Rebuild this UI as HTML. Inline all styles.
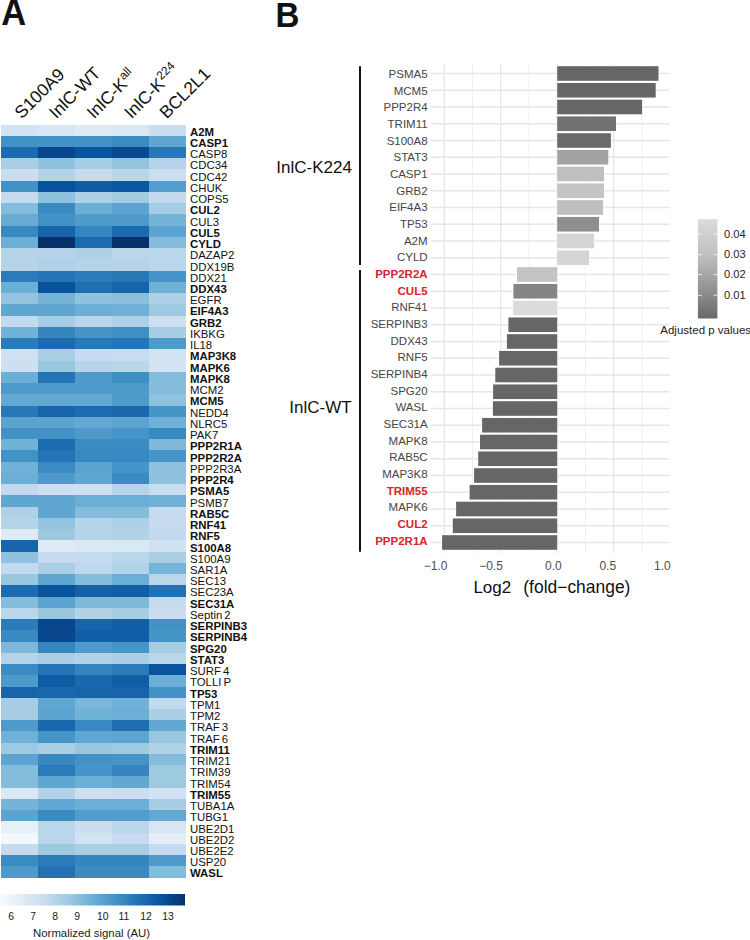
<!DOCTYPE html><html><head><meta charset="utf-8"><style>html,body{margin:0;padding:0;background:#fff;width:750px;height:940px;overflow:hidden}svg{display:block}text{font-family:"Liberation Sans",sans-serif}</style></head><body>
<svg width="750" height="940" viewBox="0 0 750 940">
<defs><linearGradient id="hmg" x1="0" x2="1" y1="0" y2="0">
<stop offset="0.000" stop-color="#F7FBFF"/>
<stop offset="0.125" stop-color="#DEEBF7"/>
<stop offset="0.250" stop-color="#C6DBEF"/>
<stop offset="0.375" stop-color="#9ECAE1"/>
<stop offset="0.500" stop-color="#6BAED6"/>
<stop offset="0.625" stop-color="#4292C6"/>
<stop offset="0.750" stop-color="#2171B5"/>
<stop offset="0.875" stop-color="#08519C"/>
<stop offset="1.000" stop-color="#08306B"/>
</linearGradient>
<linearGradient id="pg" x1="0" x2="0" y1="0" y2="1"><stop offset="0" stop-color="#dddcdc"/><stop offset="0.36" stop-color="#c0bfbf"/><stop offset="0.56" stop-color="#a6a6a6"/><stop offset="0.77" stop-color="#8a8a8a"/><stop offset="1" stop-color="#686868"/></linearGradient>
</defs>
<text x="0" y="0" font-size="36" font-weight="bold" fill="#111" transform="translate(1.25,25.1) scale(0.96,1)">A</text>
<text x="0" y="0" font-size="36" font-weight="bold" fill="#111" transform="translate(275.6,26.7) scale(0.92,1)">B</text>
<g shape-rendering="crispEdges">
<rect x="1.20" y="124.50" width="37.22" height="11.54" fill="#d2e3f3"/>
<rect x="38.12" y="124.50" width="37.22" height="11.54" fill="#d7e6f5"/>
<rect x="75.04" y="124.50" width="37.22" height="11.54" fill="#deebf7"/>
<rect x="111.96" y="124.50" width="37.22" height="11.54" fill="#d9e8f5"/>
<rect x="148.88" y="124.50" width="37.22" height="11.54" fill="#cbdef1"/>
<rect x="1.20" y="135.74" width="37.22" height="11.54" fill="#4292c6"/>
<rect x="38.12" y="135.74" width="37.22" height="11.54" fill="#4292c6"/>
<rect x="75.04" y="135.74" width="37.22" height="11.54" fill="#4292c6"/>
<rect x="111.96" y="135.74" width="37.22" height="11.54" fill="#3b8bc3"/>
<rect x="148.88" y="135.74" width="37.22" height="11.54" fill="#5fa6d1"/>
<rect x="1.20" y="146.98" width="37.22" height="11.54" fill="#1c6bb0"/>
<rect x="38.12" y="146.98" width="37.22" height="11.54" fill="#08478d"/>
<rect x="75.04" y="146.98" width="37.22" height="11.54" fill="#0a549e"/>
<rect x="111.96" y="146.98" width="37.22" height="11.54" fill="#084a92"/>
<rect x="148.88" y="146.98" width="37.22" height="11.54" fill="#2878b8"/>
<rect x="1.20" y="158.22" width="37.22" height="11.54" fill="#aacfe5"/>
<rect x="38.12" y="158.22" width="37.22" height="11.54" fill="#8fc2de"/>
<rect x="75.04" y="158.22" width="37.22" height="11.54" fill="#a6cde4"/>
<rect x="111.96" y="158.22" width="37.22" height="11.54" fill="#94c4df"/>
<rect x="148.88" y="158.22" width="37.22" height="11.54" fill="#b6d4e9"/>
<rect x="1.20" y="169.46" width="37.22" height="11.54" fill="#cbdef1"/>
<rect x="38.12" y="169.46" width="37.22" height="11.54" fill="#b2d2e8"/>
<rect x="75.04" y="169.46" width="37.22" height="11.54" fill="#c6dbef"/>
<rect x="111.96" y="169.46" width="37.22" height="11.54" fill="#bad6eb"/>
<rect x="148.88" y="169.46" width="37.22" height="11.54" fill="#cbdef1"/>
<rect x="1.20" y="180.70" width="37.22" height="11.54" fill="#4292c6"/>
<rect x="38.12" y="180.70" width="37.22" height="11.54" fill="#08519c"/>
<rect x="75.04" y="180.70" width="37.22" height="11.54" fill="#0f5ba4"/>
<rect x="111.96" y="180.70" width="37.22" height="11.54" fill="#0d57a1"/>
<rect x="148.88" y="180.70" width="37.22" height="11.54" fill="#529dcc"/>
<rect x="1.20" y="191.94" width="37.22" height="11.54" fill="#c6dbef"/>
<rect x="38.12" y="191.94" width="37.22" height="11.54" fill="#8fc2de"/>
<rect x="75.04" y="191.94" width="37.22" height="11.54" fill="#aed1e7"/>
<rect x="111.96" y="191.94" width="37.22" height="11.54" fill="#a2cce2"/>
<rect x="148.88" y="191.94" width="37.22" height="11.54" fill="#c2d9ee"/>
<rect x="1.20" y="203.18" width="37.22" height="11.54" fill="#84bcdc"/>
<rect x="38.12" y="203.18" width="37.22" height="11.54" fill="#3b8bc3"/>
<rect x="75.04" y="203.18" width="37.22" height="11.54" fill="#6baed6"/>
<rect x="111.96" y="203.18" width="37.22" height="11.54" fill="#5ba3d0"/>
<rect x="148.88" y="203.18" width="37.22" height="11.54" fill="#a6cde4"/>
<rect x="1.20" y="214.42" width="37.22" height="11.54" fill="#67abd4"/>
<rect x="38.12" y="214.42" width="37.22" height="11.54" fill="#4292c6"/>
<rect x="75.04" y="214.42" width="37.22" height="11.54" fill="#4e9acb"/>
<rect x="111.96" y="214.42" width="37.22" height="11.54" fill="#4e9acb"/>
<rect x="148.88" y="214.42" width="37.22" height="11.54" fill="#75b4d8"/>
<rect x="1.20" y="225.66" width="37.22" height="11.54" fill="#3888c1"/>
<rect x="38.12" y="225.66" width="37.22" height="11.54" fill="#1764ab"/>
<rect x="75.04" y="225.66" width="37.22" height="11.54" fill="#3585bf"/>
<rect x="111.96" y="225.66" width="37.22" height="11.54" fill="#1c6bb0"/>
<rect x="148.88" y="225.66" width="37.22" height="11.54" fill="#5ba3d0"/>
<rect x="1.20" y="236.90" width="37.22" height="11.54" fill="#6baed6"/>
<rect x="38.12" y="236.90" width="37.22" height="11.54" fill="#08306b"/>
<rect x="75.04" y="236.90" width="37.22" height="11.54" fill="#1c6bb0"/>
<rect x="111.96" y="236.90" width="37.22" height="11.54" fill="#08306b"/>
<rect x="148.88" y="236.90" width="37.22" height="11.54" fill="#84bcdc"/>
<rect x="1.20" y="248.14" width="37.22" height="11.54" fill="#b6d4e9"/>
<rect x="38.12" y="248.14" width="37.22" height="11.54" fill="#b6d4e9"/>
<rect x="75.04" y="248.14" width="37.22" height="11.54" fill="#aed1e7"/>
<rect x="111.96" y="248.14" width="37.22" height="11.54" fill="#bad6eb"/>
<rect x="148.88" y="248.14" width="37.22" height="11.54" fill="#bad6eb"/>
<rect x="1.20" y="259.38" width="37.22" height="11.54" fill="#b6d4e9"/>
<rect x="38.12" y="259.38" width="37.22" height="11.54" fill="#aed1e7"/>
<rect x="75.04" y="259.38" width="37.22" height="11.54" fill="#b6d4e9"/>
<rect x="111.96" y="259.38" width="37.22" height="11.54" fill="#b6d4e9"/>
<rect x="148.88" y="259.38" width="37.22" height="11.54" fill="#bad6eb"/>
<rect x="1.20" y="270.62" width="37.22" height="11.54" fill="#2b7bba"/>
<rect x="38.12" y="270.62" width="37.22" height="11.54" fill="#2474b7"/>
<rect x="75.04" y="270.62" width="37.22" height="11.54" fill="#2b7bba"/>
<rect x="111.96" y="270.62" width="37.22" height="11.54" fill="#2878b8"/>
<rect x="148.88" y="270.62" width="37.22" height="11.54" fill="#4695c8"/>
<rect x="1.20" y="281.86" width="37.22" height="11.54" fill="#6baed6"/>
<rect x="38.12" y="281.86" width="37.22" height="11.54" fill="#08519c"/>
<rect x="75.04" y="281.86" width="37.22" height="11.54" fill="#1f6eb2"/>
<rect x="111.96" y="281.86" width="37.22" height="11.54" fill="#1764ab"/>
<rect x="148.88" y="281.86" width="37.22" height="11.54" fill="#70b1d7"/>
<rect x="1.20" y="293.10" width="37.22" height="11.54" fill="#94c4df"/>
<rect x="38.12" y="293.10" width="37.22" height="11.54" fill="#75b4d8"/>
<rect x="75.04" y="293.10" width="37.22" height="11.54" fill="#8fc2de"/>
<rect x="111.96" y="293.10" width="37.22" height="11.54" fill="#8abfdd"/>
<rect x="148.88" y="293.10" width="37.22" height="11.54" fill="#aed1e7"/>
<rect x="1.20" y="304.34" width="37.22" height="11.54" fill="#5fa6d1"/>
<rect x="38.12" y="304.34" width="37.22" height="11.54" fill="#5fa6d1"/>
<rect x="75.04" y="304.34" width="37.22" height="11.54" fill="#6baed6"/>
<rect x="111.96" y="304.34" width="37.22" height="11.54" fill="#70b1d7"/>
<rect x="148.88" y="304.34" width="37.22" height="11.54" fill="#9ecae1"/>
<rect x="1.20" y="315.59" width="37.22" height="11.54" fill="#c2d9ee"/>
<rect x="38.12" y="315.59" width="37.22" height="11.54" fill="#a6cde4"/>
<rect x="75.04" y="315.59" width="37.22" height="11.54" fill="#bad6eb"/>
<rect x="111.96" y="315.59" width="37.22" height="11.54" fill="#aed1e7"/>
<rect x="148.88" y="315.59" width="37.22" height="11.54" fill="#cde0f1"/>
<rect x="1.20" y="326.83" width="37.22" height="11.54" fill="#70b1d7"/>
<rect x="38.12" y="326.83" width="37.22" height="11.54" fill="#3585bf"/>
<rect x="75.04" y="326.83" width="37.22" height="11.54" fill="#4695c8"/>
<rect x="111.96" y="326.83" width="37.22" height="11.54" fill="#3f8fc4"/>
<rect x="148.88" y="326.83" width="37.22" height="11.54" fill="#a6cde4"/>
<rect x="1.20" y="338.07" width="37.22" height="11.54" fill="#2b7bba"/>
<rect x="38.12" y="338.07" width="37.22" height="11.54" fill="#1c6bb0"/>
<rect x="75.04" y="338.07" width="37.22" height="11.54" fill="#2878b8"/>
<rect x="111.96" y="338.07" width="37.22" height="11.54" fill="#2474b7"/>
<rect x="148.88" y="338.07" width="37.22" height="11.54" fill="#4e9acb"/>
<rect x="1.20" y="349.31" width="37.22" height="11.54" fill="#d0e1f2"/>
<rect x="38.12" y="349.31" width="37.22" height="11.54" fill="#aacfe5"/>
<rect x="75.04" y="349.31" width="37.22" height="11.54" fill="#c6dbef"/>
<rect x="111.96" y="349.31" width="37.22" height="11.54" fill="#c8ddf0"/>
<rect x="148.88" y="349.31" width="37.22" height="11.54" fill="#d2e3f3"/>
<rect x="1.20" y="360.55" width="37.22" height="11.54" fill="#cde0f1"/>
<rect x="38.12" y="360.55" width="37.22" height="11.54" fill="#99c7e0"/>
<rect x="75.04" y="360.55" width="37.22" height="11.54" fill="#b6d4e9"/>
<rect x="111.96" y="360.55" width="37.22" height="11.54" fill="#bad6eb"/>
<rect x="148.88" y="360.55" width="37.22" height="11.54" fill="#d2e3f3"/>
<rect x="1.20" y="371.79" width="37.22" height="11.54" fill="#6baed6"/>
<rect x="38.12" y="371.79" width="37.22" height="11.54" fill="#2474b7"/>
<rect x="75.04" y="371.79" width="37.22" height="11.54" fill="#4e9acb"/>
<rect x="111.96" y="371.79" width="37.22" height="11.54" fill="#3f8fc4"/>
<rect x="148.88" y="371.79" width="37.22" height="11.54" fill="#84bcdc"/>
<rect x="1.20" y="383.03" width="37.22" height="11.54" fill="#4e9acb"/>
<rect x="38.12" y="383.03" width="37.22" height="11.54" fill="#4e9acb"/>
<rect x="75.04" y="383.03" width="37.22" height="11.54" fill="#4e9acb"/>
<rect x="111.96" y="383.03" width="37.22" height="11.54" fill="#4e9acb"/>
<rect x="148.88" y="383.03" width="37.22" height="11.54" fill="#84bcdc"/>
<rect x="1.20" y="394.27" width="37.22" height="11.54" fill="#63a8d3"/>
<rect x="38.12" y="394.27" width="37.22" height="11.54" fill="#63a8d3"/>
<rect x="75.04" y="394.27" width="37.22" height="11.54" fill="#63a8d3"/>
<rect x="111.96" y="394.27" width="37.22" height="11.54" fill="#4e9acb"/>
<rect x="148.88" y="394.27" width="37.22" height="11.54" fill="#8fc2de"/>
<rect x="1.20" y="405.51" width="37.22" height="11.54" fill="#2878b8"/>
<rect x="38.12" y="405.51" width="37.22" height="11.54" fill="#1764ab"/>
<rect x="75.04" y="405.51" width="37.22" height="11.54" fill="#1c6bb0"/>
<rect x="111.96" y="405.51" width="37.22" height="11.54" fill="#1a67ae"/>
<rect x="148.88" y="405.51" width="37.22" height="11.54" fill="#4695c8"/>
<rect x="1.20" y="416.75" width="37.22" height="11.54" fill="#5ba3d0"/>
<rect x="38.12" y="416.75" width="37.22" height="11.54" fill="#5ba3d0"/>
<rect x="75.04" y="416.75" width="37.22" height="11.54" fill="#63a8d3"/>
<rect x="111.96" y="416.75" width="37.22" height="11.54" fill="#5ba3d0"/>
<rect x="148.88" y="416.75" width="37.22" height="11.54" fill="#70b1d7"/>
<rect x="1.20" y="427.99" width="37.22" height="11.54" fill="#4292c6"/>
<rect x="38.12" y="427.99" width="37.22" height="11.54" fill="#4292c6"/>
<rect x="75.04" y="427.99" width="37.22" height="11.54" fill="#4e9acb"/>
<rect x="111.96" y="427.99" width="37.22" height="11.54" fill="#4695c8"/>
<rect x="148.88" y="427.99" width="37.22" height="11.54" fill="#3888c1"/>
<rect x="1.20" y="439.23" width="37.22" height="11.54" fill="#70b1d7"/>
<rect x="38.12" y="439.23" width="37.22" height="11.54" fill="#1c6bb0"/>
<rect x="75.04" y="439.23" width="37.22" height="11.54" fill="#3b8bc3"/>
<rect x="111.96" y="439.23" width="37.22" height="11.54" fill="#3b8bc3"/>
<rect x="148.88" y="439.23" width="37.22" height="11.54" fill="#7fb9da"/>
<rect x="1.20" y="450.47" width="37.22" height="11.54" fill="#4292c6"/>
<rect x="38.12" y="450.47" width="37.22" height="11.54" fill="#2474b7"/>
<rect x="75.04" y="450.47" width="37.22" height="11.54" fill="#3888c1"/>
<rect x="111.96" y="450.47" width="37.22" height="11.54" fill="#3888c1"/>
<rect x="148.88" y="450.47" width="37.22" height="11.54" fill="#4695c8"/>
<rect x="1.20" y="461.71" width="37.22" height="11.54" fill="#70b1d7"/>
<rect x="38.12" y="461.71" width="37.22" height="11.54" fill="#3b8bc3"/>
<rect x="75.04" y="461.71" width="37.22" height="11.54" fill="#5ba3d0"/>
<rect x="111.96" y="461.71" width="37.22" height="11.54" fill="#4695c8"/>
<rect x="148.88" y="461.71" width="37.22" height="11.54" fill="#8fc2de"/>
<rect x="1.20" y="472.95" width="37.22" height="11.54" fill="#6baed6"/>
<rect x="38.12" y="472.95" width="37.22" height="11.54" fill="#4e9acb"/>
<rect x="75.04" y="472.95" width="37.22" height="11.54" fill="#5fa6d1"/>
<rect x="111.96" y="472.95" width="37.22" height="11.54" fill="#3b8bc3"/>
<rect x="148.88" y="472.95" width="37.22" height="11.54" fill="#8fc2de"/>
<rect x="1.20" y="484.19" width="37.22" height="11.54" fill="#c2d9ee"/>
<rect x="38.12" y="484.19" width="37.22" height="11.54" fill="#cde0f1"/>
<rect x="75.04" y="484.19" width="37.22" height="11.54" fill="#cde0f1"/>
<rect x="111.96" y="484.19" width="37.22" height="11.54" fill="#b6d4e9"/>
<rect x="148.88" y="484.19" width="37.22" height="11.54" fill="#c8ddf0"/>
<rect x="1.20" y="495.43" width="37.22" height="11.54" fill="#5fa6d1"/>
<rect x="38.12" y="495.43" width="37.22" height="11.54" fill="#5fa6d1"/>
<rect x="75.04" y="495.43" width="37.22" height="11.54" fill="#6baed6"/>
<rect x="111.96" y="495.43" width="37.22" height="11.54" fill="#6baed6"/>
<rect x="148.88" y="495.43" width="37.22" height="11.54" fill="#70b1d7"/>
<rect x="1.20" y="506.67" width="37.22" height="11.54" fill="#aed1e7"/>
<rect x="38.12" y="506.67" width="37.22" height="11.54" fill="#5fa6d1"/>
<rect x="75.04" y="506.67" width="37.22" height="11.54" fill="#84bcdc"/>
<rect x="111.96" y="506.67" width="37.22" height="11.54" fill="#84bcdc"/>
<rect x="148.88" y="506.67" width="37.22" height="11.54" fill="#c6dbef"/>
<rect x="1.20" y="517.91" width="37.22" height="11.54" fill="#b6d4e9"/>
<rect x="38.12" y="517.91" width="37.22" height="11.54" fill="#94c4df"/>
<rect x="75.04" y="517.91" width="37.22" height="11.54" fill="#b6d4e9"/>
<rect x="111.96" y="517.91" width="37.22" height="11.54" fill="#aed1e7"/>
<rect x="148.88" y="517.91" width="37.22" height="11.54" fill="#c6dbef"/>
<rect x="1.20" y="529.15" width="37.22" height="11.54" fill="#deebf7"/>
<rect x="38.12" y="529.15" width="37.22" height="11.54" fill="#9ecae1"/>
<rect x="75.04" y="529.15" width="37.22" height="11.54" fill="#b6d4e9"/>
<rect x="111.96" y="529.15" width="37.22" height="11.54" fill="#b2d2e8"/>
<rect x="148.88" y="529.15" width="37.22" height="11.54" fill="#c2d9ee"/>
<rect x="1.20" y="540.39" width="37.22" height="11.54" fill="#1764ab"/>
<rect x="38.12" y="540.39" width="37.22" height="11.54" fill="#deebf7"/>
<rect x="75.04" y="540.39" width="37.22" height="11.54" fill="#d9e8f5"/>
<rect x="111.96" y="540.39" width="37.22" height="11.54" fill="#d9e8f5"/>
<rect x="148.88" y="540.39" width="37.22" height="11.54" fill="#d0e1f2"/>
<rect x="1.20" y="551.63" width="37.22" height="11.54" fill="#8fc2de"/>
<rect x="38.12" y="551.63" width="37.22" height="11.54" fill="#c6dbef"/>
<rect x="75.04" y="551.63" width="37.22" height="11.54" fill="#c6dbef"/>
<rect x="111.96" y="551.63" width="37.22" height="11.54" fill="#bad6eb"/>
<rect x="148.88" y="551.63" width="37.22" height="11.54" fill="#aacfe5"/>
<rect x="1.20" y="562.87" width="37.22" height="11.54" fill="#c2d9ee"/>
<rect x="38.12" y="562.87" width="37.22" height="11.54" fill="#aacfe5"/>
<rect x="75.04" y="562.87" width="37.22" height="11.54" fill="#bed8ec"/>
<rect x="111.96" y="562.87" width="37.22" height="11.54" fill="#b2d2e8"/>
<rect x="148.88" y="562.87" width="37.22" height="11.54" fill="#75b4d8"/>
<rect x="1.20" y="574.11" width="37.22" height="11.54" fill="#99c7e0"/>
<rect x="38.12" y="574.11" width="37.22" height="11.54" fill="#5fa6d1"/>
<rect x="75.04" y="574.11" width="37.22" height="11.54" fill="#84bcdc"/>
<rect x="111.96" y="574.11" width="37.22" height="11.54" fill="#6baed6"/>
<rect x="148.88" y="574.11" width="37.22" height="11.54" fill="#bad6eb"/>
<rect x="1.20" y="585.35" width="37.22" height="11.54" fill="#1c6bb0"/>
<rect x="38.12" y="585.35" width="37.22" height="11.54" fill="#0a549e"/>
<rect x="75.04" y="585.35" width="37.22" height="11.54" fill="#1461a8"/>
<rect x="111.96" y="585.35" width="37.22" height="11.54" fill="#125ea6"/>
<rect x="148.88" y="585.35" width="37.22" height="11.54" fill="#2171b5"/>
<rect x="1.20" y="596.59" width="37.22" height="11.54" fill="#84bcdc"/>
<rect x="38.12" y="596.59" width="37.22" height="11.54" fill="#5ba3d0"/>
<rect x="75.04" y="596.59" width="37.22" height="11.54" fill="#7fb9da"/>
<rect x="111.96" y="596.59" width="37.22" height="11.54" fill="#7fb9da"/>
<rect x="148.88" y="596.59" width="37.22" height="11.54" fill="#c6dbef"/>
<rect x="1.20" y="607.83" width="37.22" height="11.54" fill="#bad6eb"/>
<rect x="38.12" y="607.83" width="37.22" height="11.54" fill="#99c7e0"/>
<rect x="75.04" y="607.83" width="37.22" height="11.54" fill="#b2d2e8"/>
<rect x="111.96" y="607.83" width="37.22" height="11.54" fill="#a6cde4"/>
<rect x="148.88" y="607.83" width="37.22" height="11.54" fill="#cbdef1"/>
<rect x="1.20" y="619.07" width="37.22" height="11.54" fill="#2b7bba"/>
<rect x="38.12" y="619.07" width="37.22" height="11.54" fill="#08478d"/>
<rect x="75.04" y="619.07" width="37.22" height="11.54" fill="#1764ab"/>
<rect x="111.96" y="619.07" width="37.22" height="11.54" fill="#125ea6"/>
<rect x="148.88" y="619.07" width="37.22" height="11.54" fill="#4292c6"/>
<rect x="1.20" y="630.31" width="37.22" height="11.54" fill="#3888c1"/>
<rect x="38.12" y="630.31" width="37.22" height="11.54" fill="#08478d"/>
<rect x="75.04" y="630.31" width="37.22" height="11.54" fill="#125ea6"/>
<rect x="111.96" y="630.31" width="37.22" height="11.54" fill="#125ea6"/>
<rect x="148.88" y="630.31" width="37.22" height="11.54" fill="#4695c8"/>
<rect x="1.20" y="641.55" width="37.22" height="11.54" fill="#7fb9da"/>
<rect x="38.12" y="641.55" width="37.22" height="11.54" fill="#3585bf"/>
<rect x="75.04" y="641.55" width="37.22" height="11.54" fill="#4e9acb"/>
<rect x="111.96" y="641.55" width="37.22" height="11.54" fill="#4695c8"/>
<rect x="148.88" y="641.55" width="37.22" height="11.54" fill="#a6cde4"/>
<rect x="1.20" y="652.79" width="37.22" height="11.54" fill="#b6d4e9"/>
<rect x="38.12" y="652.79" width="37.22" height="11.54" fill="#aacfe5"/>
<rect x="75.04" y="652.79" width="37.22" height="11.54" fill="#b2d2e8"/>
<rect x="111.96" y="652.79" width="37.22" height="11.54" fill="#aacfe5"/>
<rect x="148.88" y="652.79" width="37.22" height="11.54" fill="#bad6eb"/>
<rect x="1.20" y="664.03" width="37.22" height="11.54" fill="#3b8bc3"/>
<rect x="38.12" y="664.03" width="37.22" height="11.54" fill="#2474b7"/>
<rect x="75.04" y="664.03" width="37.22" height="11.54" fill="#3585bf"/>
<rect x="111.96" y="664.03" width="37.22" height="11.54" fill="#2b7bba"/>
<rect x="148.88" y="664.03" width="37.22" height="11.54" fill="#0a549e"/>
<rect x="1.20" y="675.27" width="37.22" height="11.54" fill="#4e9acb"/>
<rect x="38.12" y="675.27" width="37.22" height="11.54" fill="#0f5ba4"/>
<rect x="75.04" y="675.27" width="37.22" height="11.54" fill="#1a67ae"/>
<rect x="111.96" y="675.27" width="37.22" height="11.54" fill="#125ea6"/>
<rect x="148.88" y="675.27" width="37.22" height="11.54" fill="#6baed6"/>
<rect x="1.20" y="686.51" width="37.22" height="11.54" fill="#1764ab"/>
<rect x="38.12" y="686.51" width="37.22" height="11.54" fill="#1a67ae"/>
<rect x="75.04" y="686.51" width="37.22" height="11.54" fill="#1764ab"/>
<rect x="111.96" y="686.51" width="37.22" height="11.54" fill="#1764ab"/>
<rect x="148.88" y="686.51" width="37.22" height="11.54" fill="#4292c6"/>
<rect x="1.20" y="697.76" width="37.22" height="11.54" fill="#a6cde4"/>
<rect x="38.12" y="697.76" width="37.22" height="11.54" fill="#5fa6d1"/>
<rect x="75.04" y="697.76" width="37.22" height="11.54" fill="#7ab6d9"/>
<rect x="111.96" y="697.76" width="37.22" height="11.54" fill="#70b1d7"/>
<rect x="148.88" y="697.76" width="37.22" height="11.54" fill="#c2d9ee"/>
<rect x="1.20" y="709.00" width="37.22" height="11.54" fill="#a6cde4"/>
<rect x="38.12" y="709.00" width="37.22" height="11.54" fill="#5ba3d0"/>
<rect x="75.04" y="709.00" width="37.22" height="11.54" fill="#70b1d7"/>
<rect x="111.96" y="709.00" width="37.22" height="11.54" fill="#6baed6"/>
<rect x="148.88" y="709.00" width="37.22" height="11.54" fill="#aacfe5"/>
<rect x="1.20" y="720.24" width="37.22" height="11.54" fill="#4e9acb"/>
<rect x="38.12" y="720.24" width="37.22" height="11.54" fill="#1a67ae"/>
<rect x="75.04" y="720.24" width="37.22" height="11.54" fill="#3888c1"/>
<rect x="111.96" y="720.24" width="37.22" height="11.54" fill="#1f6eb2"/>
<rect x="148.88" y="720.24" width="37.22" height="11.54" fill="#63a8d3"/>
<rect x="1.20" y="731.48" width="37.22" height="11.54" fill="#70b1d7"/>
<rect x="38.12" y="731.48" width="37.22" height="11.54" fill="#4695c8"/>
<rect x="75.04" y="731.48" width="37.22" height="11.54" fill="#5fa6d1"/>
<rect x="111.96" y="731.48" width="37.22" height="11.54" fill="#5ba3d0"/>
<rect x="148.88" y="731.48" width="37.22" height="11.54" fill="#99c7e0"/>
<rect x="1.20" y="742.72" width="37.22" height="11.54" fill="#9ecae1"/>
<rect x="38.12" y="742.72" width="37.22" height="11.54" fill="#aacfe5"/>
<rect x="75.04" y="742.72" width="37.22" height="11.54" fill="#99c7e0"/>
<rect x="111.96" y="742.72" width="37.22" height="11.54" fill="#9ecae1"/>
<rect x="148.88" y="742.72" width="37.22" height="11.54" fill="#b2d2e8"/>
<rect x="1.20" y="753.96" width="37.22" height="11.54" fill="#5ba3d0"/>
<rect x="38.12" y="753.96" width="37.22" height="11.54" fill="#3888c1"/>
<rect x="75.04" y="753.96" width="37.22" height="11.54" fill="#4292c6"/>
<rect x="111.96" y="753.96" width="37.22" height="11.54" fill="#4695c8"/>
<rect x="148.88" y="753.96" width="37.22" height="11.54" fill="#84bcdc"/>
<rect x="1.20" y="765.20" width="37.22" height="11.54" fill="#84bcdc"/>
<rect x="38.12" y="765.20" width="37.22" height="11.54" fill="#2b7bba"/>
<rect x="75.04" y="765.20" width="37.22" height="11.54" fill="#4695c8"/>
<rect x="111.96" y="765.20" width="37.22" height="11.54" fill="#3585bf"/>
<rect x="148.88" y="765.20" width="37.22" height="11.54" fill="#9ecae1"/>
<rect x="1.20" y="776.44" width="37.22" height="11.54" fill="#84bcdc"/>
<rect x="38.12" y="776.44" width="37.22" height="11.54" fill="#5fa6d1"/>
<rect x="75.04" y="776.44" width="37.22" height="11.54" fill="#6baed6"/>
<rect x="111.96" y="776.44" width="37.22" height="11.54" fill="#63a8d3"/>
<rect x="148.88" y="776.44" width="37.22" height="11.54" fill="#9ecae1"/>
<rect x="1.20" y="787.68" width="37.22" height="11.54" fill="#d9e8f5"/>
<rect x="38.12" y="787.68" width="37.22" height="11.54" fill="#b2d2e8"/>
<rect x="75.04" y="787.68" width="37.22" height="11.54" fill="#cde0f1"/>
<rect x="111.96" y="787.68" width="37.22" height="11.54" fill="#cbdef1"/>
<rect x="148.88" y="787.68" width="37.22" height="11.54" fill="#d2e3f3"/>
<rect x="1.20" y="798.92" width="37.22" height="11.54" fill="#75b4d8"/>
<rect x="38.12" y="798.92" width="37.22" height="11.54" fill="#63a8d3"/>
<rect x="75.04" y="798.92" width="37.22" height="11.54" fill="#6baed6"/>
<rect x="111.96" y="798.92" width="37.22" height="11.54" fill="#6baed6"/>
<rect x="148.88" y="798.92" width="37.22" height="11.54" fill="#a6cde4"/>
<rect x="1.20" y="810.16" width="37.22" height="11.54" fill="#5ba3d0"/>
<rect x="38.12" y="810.16" width="37.22" height="11.54" fill="#3b8bc3"/>
<rect x="75.04" y="810.16" width="37.22" height="11.54" fill="#529dcc"/>
<rect x="111.96" y="810.16" width="37.22" height="11.54" fill="#529dcc"/>
<rect x="148.88" y="810.16" width="37.22" height="11.54" fill="#63a8d3"/>
<rect x="1.20" y="821.40" width="37.22" height="11.54" fill="#e6f0f9"/>
<rect x="38.12" y="821.40" width="37.22" height="11.54" fill="#bad6eb"/>
<rect x="75.04" y="821.40" width="37.22" height="11.54" fill="#cbdef1"/>
<rect x="111.96" y="821.40" width="37.22" height="11.54" fill="#bad6eb"/>
<rect x="148.88" y="821.40" width="37.22" height="11.54" fill="#d7e6f5"/>
<rect x="1.20" y="832.64" width="37.22" height="11.54" fill="#f2f8fd"/>
<rect x="38.12" y="832.64" width="37.22" height="11.54" fill="#bad6eb"/>
<rect x="75.04" y="832.64" width="37.22" height="11.54" fill="#d2e3f3"/>
<rect x="111.96" y="832.64" width="37.22" height="11.54" fill="#c6dbef"/>
<rect x="148.88" y="832.64" width="37.22" height="11.54" fill="#e3eef9"/>
<rect x="1.20" y="843.88" width="37.22" height="11.54" fill="#c6dbef"/>
<rect x="38.12" y="843.88" width="37.22" height="11.54" fill="#9ecae1"/>
<rect x="75.04" y="843.88" width="37.22" height="11.54" fill="#aacfe5"/>
<rect x="111.96" y="843.88" width="37.22" height="11.54" fill="#aacfe5"/>
<rect x="148.88" y="843.88" width="37.22" height="11.54" fill="#c6dbef"/>
<rect x="1.20" y="855.12" width="37.22" height="11.54" fill="#3b8bc3"/>
<rect x="38.12" y="855.12" width="37.22" height="11.54" fill="#2b7bba"/>
<rect x="75.04" y="855.12" width="37.22" height="11.54" fill="#3585bf"/>
<rect x="111.96" y="855.12" width="37.22" height="11.54" fill="#3585bf"/>
<rect x="148.88" y="855.12" width="37.22" height="11.54" fill="#4e9acb"/>
<rect x="1.20" y="866.36" width="37.22" height="11.54" fill="#4e9acb"/>
<rect x="38.12" y="866.36" width="37.22" height="11.54" fill="#2171b5"/>
<rect x="75.04" y="866.36" width="37.22" height="11.54" fill="#3b8bc3"/>
<rect x="111.96" y="866.36" width="37.22" height="11.54" fill="#3b8bc3"/>
<rect x="148.88" y="866.36" width="37.22" height="11.54" fill="#84bcdc"/>
</g>
<text x="190" y="135.62" font-size="11.4" font-weight="bold" fill="#111">A2M</text>
<text x="190" y="146.86" font-size="11.4" font-weight="bold" fill="#111">CASP1</text>
<text x="190" y="158.10" font-size="11.4" fill="#111">CASP8</text>
<text x="190" y="169.34" font-size="11.4" fill="#111">CDC34</text>
<text x="190" y="180.58" font-size="11.4" fill="#111">CDC42</text>
<text x="190" y="191.82" font-size="11.4" fill="#111">CHUK</text>
<text x="190" y="203.06" font-size="11.4" fill="#111">COPS5</text>
<text x="190" y="214.30" font-size="11.4" font-weight="bold" fill="#111">CUL2</text>
<text x="190" y="225.54" font-size="11.4" fill="#111">CUL3</text>
<text x="190" y="236.78" font-size="11.4" font-weight="bold" fill="#111">CUL5</text>
<text x="190" y="248.02" font-size="11.4" font-weight="bold" fill="#111">CYLD</text>
<text x="190" y="259.26" font-size="11.4" fill="#111">DAZAP2</text>
<text x="190" y="270.50" font-size="11.4" fill="#111">DDX19B</text>
<text x="190" y="281.74" font-size="11.4" fill="#111">DDX21</text>
<text x="190" y="292.98" font-size="11.4" font-weight="bold" fill="#111">DDX43</text>
<text x="190" y="304.22" font-size="11.4" fill="#111">EGFR</text>
<text x="190" y="315.46" font-size="11.4" font-weight="bold" fill="#111">EIF4A3</text>
<text x="190" y="326.71" font-size="11.4" font-weight="bold" fill="#111">GRB2</text>
<text x="190" y="337.95" font-size="11.4" fill="#111">IKBKG</text>
<text x="190" y="349.19" font-size="11.4" fill="#111">IL18</text>
<text x="190" y="360.43" font-size="11.4" font-weight="bold" fill="#111">MAP3K8</text>
<text x="190" y="371.67" font-size="11.4" font-weight="bold" fill="#111">MAPK6</text>
<text x="190" y="382.91" font-size="11.4" font-weight="bold" fill="#111">MAPK8</text>
<text x="190" y="394.15" font-size="11.4" fill="#111">MCM2</text>
<text x="190" y="405.39" font-size="11.4" font-weight="bold" fill="#111">MCM5</text>
<text x="190" y="416.63" font-size="11.4" fill="#111">NEDD4</text>
<text x="190" y="427.87" font-size="11.4" fill="#111">NLRC5</text>
<text x="190" y="439.11" font-size="11.4" fill="#111">PAK7</text>
<text x="190" y="450.35" font-size="11.4" font-weight="bold" fill="#111">PPP2R1A</text>
<text x="190" y="461.59" font-size="11.4" font-weight="bold" fill="#111">PPP2R2A</text>
<text x="190" y="472.83" font-size="11.4" fill="#111">PPP2R3A</text>
<text x="190" y="484.07" font-size="11.4" font-weight="bold" fill="#111">PPP2R4</text>
<text x="190" y="495.31" font-size="11.4" font-weight="bold" fill="#111">PSMA5</text>
<text x="190" y="506.55" font-size="11.4" fill="#111">PSMB7</text>
<text x="190" y="517.79" font-size="11.4" font-weight="bold" fill="#111">RAB5C</text>
<text x="190" y="529.03" font-size="11.4" font-weight="bold" fill="#111">RNF41</text>
<text x="190" y="540.27" font-size="11.4" font-weight="bold" fill="#111">RNF5</text>
<text x="190" y="551.51" font-size="11.4" font-weight="bold" fill="#111">S100A8</text>
<text x="190" y="562.75" font-size="11.4" fill="#111">S100A9</text>
<text x="190" y="573.99" font-size="11.4" fill="#111">SAR1A</text>
<text x="190" y="585.23" font-size="11.4" fill="#111">SEC13</text>
<text x="190" y="596.47" font-size="11.4" fill="#111">SEC23A</text>
<text x="190" y="607.71" font-size="11.4" font-weight="bold" fill="#111">SEC31A</text>
<text x="190" y="618.95" font-size="11.4" fill="#111" word-spacing="-1.2">Septin 2</text>
<text x="190" y="630.19" font-size="11.4" font-weight="bold" fill="#111">SERPINB3</text>
<text x="190" y="641.43" font-size="11.4" font-weight="bold" fill="#111">SERPINB4</text>
<text x="190" y="652.67" font-size="11.4" font-weight="bold" fill="#111">SPG20</text>
<text x="190" y="663.91" font-size="11.4" font-weight="bold" fill="#111">STAT3</text>
<text x="190" y="675.15" font-size="11.4" fill="#111" word-spacing="-1.2">SURF 4</text>
<text x="190" y="686.39" font-size="11.4" fill="#111" word-spacing="-1.2">TOLLI P</text>
<text x="190" y="697.64" font-size="11.4" font-weight="bold" fill="#111">TP53</text>
<text x="190" y="708.88" font-size="11.4" fill="#111">TPM1</text>
<text x="190" y="720.12" font-size="11.4" fill="#111">TPM2</text>
<text x="190" y="731.36" font-size="11.4" fill="#111" word-spacing="-1.2">TRAF 3</text>
<text x="190" y="742.60" font-size="11.4" fill="#111" word-spacing="-1.2">TRAF 6</text>
<text x="190" y="753.84" font-size="11.4" font-weight="bold" fill="#111">TRIM11</text>
<text x="190" y="765.08" font-size="11.4" fill="#111">TRIM21</text>
<text x="190" y="776.32" font-size="11.4" fill="#111">TRIM39</text>
<text x="190" y="787.56" font-size="11.4" fill="#111">TRIM54</text>
<text x="190" y="798.80" font-size="11.4" font-weight="bold" fill="#111">TRIM55</text>
<text x="190" y="810.04" font-size="11.4" fill="#111">TUBA1A</text>
<text x="190" y="821.28" font-size="11.4" fill="#111">TUBG1</text>
<text x="190" y="832.52" font-size="11.4" fill="#111">UBE2D1</text>
<text x="190" y="843.76" font-size="11.4" fill="#111">UBE2D2</text>
<text x="190" y="855.00" font-size="11.4" fill="#111">UBE2E2</text>
<text x="190" y="866.24" font-size="11.4" fill="#111">USP20</text>
<text x="190" y="877.48" font-size="11.4" font-weight="bold" fill="#111">WASL</text>
<text x="0" y="0" font-size="17.5" fill="#111" transform="translate(21.66,119.6) rotate(-45)">S100A9</text>
<text x="0" y="0" font-size="17.5" fill="#111" transform="translate(56.28,119.6) rotate(-45)">InlC-WT</text>
<text x="0" y="0" font-size="17.5" fill="#111" transform="translate(93.90,119.6) rotate(-45)">InlC-K<tspan font-size="12" dy="-6.5">all</tspan></text>
<text x="0" y="0" font-size="17.5" fill="#111" transform="translate(131.42,119.6) rotate(-45)">InlC-K<tspan font-size="12" dy="-6.5">224</tspan></text>
<text x="0" y="0" font-size="17.5" fill="#111" transform="translate(166.64,119.6) rotate(-45)">BCL2L1</text>
<rect x="0" y="894" width="185" height="11.5" fill="url(#hmg)"/>
<text x="11.20" y="920.0" font-size="10.4" fill="#1a1a1a" text-anchor="middle">6</text>
<text x="33.10" y="920.0" font-size="10.4" fill="#1a1a1a" text-anchor="middle">7</text>
<text x="55.20" y="920.0" font-size="10.4" fill="#1a1a1a" text-anchor="middle">8</text>
<text x="77.20" y="920.0" font-size="10.4" fill="#1a1a1a" text-anchor="middle">9</text>
<text x="102.80" y="920.0" font-size="10.4" fill="#1a1a1a" text-anchor="middle">10</text>
<text x="124.00" y="920.0" font-size="10.4" fill="#1a1a1a" text-anchor="middle">11</text>
<text x="146.00" y="920.0" font-size="10.4" fill="#1a1a1a" text-anchor="middle">12</text>
<text x="168.00" y="920.0" font-size="10.4" fill="#1a1a1a" text-anchor="middle">13</text>
<text x="91.6" y="936.6" font-size="11.4" fill="#1a1a1a" text-anchor="middle">Normalized signal (AU)</text>
<line x1="444.20" x2="444.20" y1="64.0" y2="553.0" stroke="#e6e6e6" stroke-width="1.3"/>
<line x1="472.45" x2="472.45" y1="64.0" y2="553.0" stroke="#e6e6e6" stroke-width="0.7"/>
<line x1="500.70" x2="500.70" y1="64.0" y2="553.0" stroke="#e6e6e6" stroke-width="1.3"/>
<line x1="528.95" x2="528.95" y1="64.0" y2="553.0" stroke="#e6e6e6" stroke-width="0.7"/>
<line x1="557.20" x2="557.20" y1="64.0" y2="553.0" stroke="#e6e6e6" stroke-width="1.3"/>
<line x1="585.45" x2="585.45" y1="64.0" y2="553.0" stroke="#e6e6e6" stroke-width="0.7"/>
<line x1="613.70" x2="613.70" y1="64.0" y2="553.0" stroke="#e6e6e6" stroke-width="1.3"/>
<line x1="641.95" x2="641.95" y1="64.0" y2="553.0" stroke="#e6e6e6" stroke-width="0.7"/>
<line x1="430.9" x2="669.5" y1="73.50" y2="73.50" stroke="#e6e6e6" stroke-width="1.3"/>
<line x1="430.9" x2="669.5" y1="90.25" y2="90.25" stroke="#e6e6e6" stroke-width="1.3"/>
<line x1="430.9" x2="669.5" y1="107.00" y2="107.00" stroke="#e6e6e6" stroke-width="1.3"/>
<line x1="430.9" x2="669.5" y1="123.75" y2="123.75" stroke="#e6e6e6" stroke-width="1.3"/>
<line x1="430.9" x2="669.5" y1="140.50" y2="140.50" stroke="#e6e6e6" stroke-width="1.3"/>
<line x1="430.9" x2="669.5" y1="157.25" y2="157.25" stroke="#e6e6e6" stroke-width="1.3"/>
<line x1="430.9" x2="669.5" y1="174.00" y2="174.00" stroke="#e6e6e6" stroke-width="1.3"/>
<line x1="430.9" x2="669.5" y1="190.75" y2="190.75" stroke="#e6e6e6" stroke-width="1.3"/>
<line x1="430.9" x2="669.5" y1="207.50" y2="207.50" stroke="#e6e6e6" stroke-width="1.3"/>
<line x1="430.9" x2="669.5" y1="224.25" y2="224.25" stroke="#e6e6e6" stroke-width="1.3"/>
<line x1="430.9" x2="669.5" y1="241.00" y2="241.00" stroke="#e6e6e6" stroke-width="1.3"/>
<line x1="430.9" x2="669.5" y1="257.75" y2="257.75" stroke="#e6e6e6" stroke-width="1.3"/>
<line x1="430.9" x2="669.5" y1="274.50" y2="274.50" stroke="#e6e6e6" stroke-width="1.3"/>
<line x1="430.9" x2="669.5" y1="291.25" y2="291.25" stroke="#e6e6e6" stroke-width="1.3"/>
<line x1="430.9" x2="669.5" y1="308.00" y2="308.00" stroke="#e6e6e6" stroke-width="1.3"/>
<line x1="430.9" x2="669.5" y1="324.75" y2="324.75" stroke="#e6e6e6" stroke-width="1.3"/>
<line x1="430.9" x2="669.5" y1="341.50" y2="341.50" stroke="#e6e6e6" stroke-width="1.3"/>
<line x1="430.9" x2="669.5" y1="358.25" y2="358.25" stroke="#e6e6e6" stroke-width="1.3"/>
<line x1="430.9" x2="669.5" y1="375.00" y2="375.00" stroke="#e6e6e6" stroke-width="1.3"/>
<line x1="430.9" x2="669.5" y1="391.75" y2="391.75" stroke="#e6e6e6" stroke-width="1.3"/>
<line x1="430.9" x2="669.5" y1="408.50" y2="408.50" stroke="#e6e6e6" stroke-width="1.3"/>
<line x1="430.9" x2="669.5" y1="425.25" y2="425.25" stroke="#e6e6e6" stroke-width="1.3"/>
<line x1="430.9" x2="669.5" y1="442.00" y2="442.00" stroke="#e6e6e6" stroke-width="1.3"/>
<line x1="430.9" x2="669.5" y1="458.75" y2="458.75" stroke="#e6e6e6" stroke-width="1.3"/>
<line x1="430.9" x2="669.5" y1="475.50" y2="475.50" stroke="#e6e6e6" stroke-width="1.3"/>
<line x1="430.9" x2="669.5" y1="492.25" y2="492.25" stroke="#e6e6e6" stroke-width="1.3"/>
<line x1="430.9" x2="669.5" y1="509.00" y2="509.00" stroke="#e6e6e6" stroke-width="1.3"/>
<line x1="430.9" x2="669.5" y1="525.75" y2="525.75" stroke="#e6e6e6" stroke-width="1.3"/>
<line x1="430.9" x2="669.5" y1="542.50" y2="542.50" stroke="#e6e6e6" stroke-width="1.3"/>
<rect x="556.80" y="65.33" width="102.10" height="16.35" fill="#fff"/>
<rect x="557.20" y="66.20" width="101.30" height="14.60" fill="#666666"/>
<text x="427.6" y="78.00" font-size="11.5" fill="#454545" text-anchor="end">PSMA5</text>
<rect x="556.80" y="82.08" width="99.30" height="16.35" fill="#fff"/>
<rect x="557.20" y="82.95" width="98.50" height="14.60" fill="#666666"/>
<text x="427.6" y="94.67" font-size="11.5" fill="#454545" text-anchor="end">MCM5</text>
<rect x="556.80" y="98.83" width="85.70" height="16.35" fill="#fff"/>
<rect x="557.20" y="99.70" width="84.90" height="14.60" fill="#666666"/>
<text x="427.6" y="111.34" font-size="11.5" fill="#454545" text-anchor="end">PPP2R4</text>
<rect x="556.80" y="115.58" width="59.60" height="16.35" fill="#fff"/>
<rect x="557.20" y="116.45" width="58.80" height="14.60" fill="#727272"/>
<text x="427.6" y="128.01" font-size="11.5" fill="#454545" text-anchor="end">TRIM11</text>
<rect x="556.80" y="132.32" width="54.50" height="16.35" fill="#fff"/>
<rect x="557.20" y="133.20" width="53.70" height="14.60" fill="#6a6a6a"/>
<text x="427.6" y="144.68" font-size="11.5" fill="#454545" text-anchor="end">S100A8</text>
<rect x="556.80" y="149.07" width="51.90" height="16.35" fill="#fff"/>
<rect x="557.20" y="149.95" width="51.10" height="14.60" fill="#a3a3a3"/>
<text x="427.6" y="161.35" font-size="11.5" fill="#454545" text-anchor="end">STAT3</text>
<rect x="556.80" y="165.82" width="47.60" height="16.35" fill="#fff"/>
<rect x="557.20" y="166.70" width="46.80" height="14.60" fill="#c0bfbf"/>
<text x="427.6" y="178.02" font-size="11.5" fill="#454545" text-anchor="end">CASP1</text>
<rect x="556.80" y="182.57" width="47.60" height="16.35" fill="#fff"/>
<rect x="557.20" y="183.45" width="46.80" height="14.60" fill="#c5c3c3"/>
<text x="427.6" y="194.69" font-size="11.5" fill="#454545" text-anchor="end">GRB2</text>
<rect x="556.80" y="199.32" width="46.70" height="16.35" fill="#fff"/>
<rect x="557.20" y="200.20" width="45.90" height="14.60" fill="#c0bfbf"/>
<text x="427.6" y="211.36" font-size="11.5" fill="#454545" text-anchor="end">EIF4A3</text>
<rect x="556.80" y="216.07" width="42.60" height="16.35" fill="#fff"/>
<rect x="557.20" y="216.95" width="41.80" height="14.60" fill="#8e8e8e"/>
<text x="427.6" y="228.03" font-size="11.5" fill="#454545" text-anchor="end">TP53</text>
<rect x="556.80" y="232.82" width="37.70" height="16.35" fill="#fff"/>
<rect x="557.20" y="233.70" width="36.90" height="14.60" fill="#d5d4d4"/>
<text x="427.6" y="244.70" font-size="11.5" fill="#454545" text-anchor="end">A2M</text>
<rect x="556.80" y="249.57" width="32.70" height="16.35" fill="#fff"/>
<rect x="557.20" y="250.45" width="31.90" height="14.60" fill="#d6d5d5"/>
<text x="427.6" y="261.37" font-size="11.5" fill="#454545" text-anchor="end">CYLD</text>
<rect x="516.60" y="266.32" width="41.00" height="16.35" fill="#fff"/>
<rect x="517.00" y="267.20" width="40.20" height="14.60" fill="#c4c2c2"/>
<text x="427.6" y="278.04" font-size="11.5" font-weight="bold" fill="#d8232a" text-anchor="end">PPP2R2A</text>
<rect x="513.00" y="283.07" width="44.60" height="16.35" fill="#fff"/>
<rect x="513.40" y="283.95" width="43.80" height="14.60" fill="#858585"/>
<text x="427.6" y="294.71" font-size="11.5" font-weight="bold" fill="#d8232a" text-anchor="end">CUL5</text>
<rect x="512.70" y="299.82" width="44.90" height="16.35" fill="#fff"/>
<rect x="513.10" y="300.70" width="44.10" height="14.60" fill="#dcdbdb"/>
<text x="427.6" y="311.38" font-size="11.5" fill="#454545" text-anchor="end">RNF41</text>
<rect x="508.00" y="316.57" width="49.60" height="16.35" fill="#fff"/>
<rect x="508.40" y="317.45" width="48.80" height="14.60" fill="#666666"/>
<text x="427.6" y="328.05" font-size="11.5" fill="#454545" text-anchor="end">SERPINB3</text>
<rect x="506.50" y="333.32" width="51.10" height="16.35" fill="#fff"/>
<rect x="506.90" y="334.20" width="50.30" height="14.60" fill="#666666"/>
<text x="427.6" y="344.72" font-size="11.5" fill="#454545" text-anchor="end">DDX43</text>
<rect x="498.70" y="350.07" width="58.90" height="16.35" fill="#fff"/>
<rect x="499.10" y="350.95" width="58.10" height="14.60" fill="#666666"/>
<text x="427.6" y="361.39" font-size="11.5" fill="#454545" text-anchor="end">RNF5</text>
<rect x="494.90" y="366.82" width="62.70" height="16.35" fill="#fff"/>
<rect x="495.30" y="367.70" width="61.90" height="14.60" fill="#666666"/>
<text x="427.6" y="378.06" font-size="11.5" fill="#454545" text-anchor="end">SERPINB4</text>
<rect x="492.70" y="383.57" width="64.90" height="16.35" fill="#fff"/>
<rect x="493.10" y="384.45" width="64.10" height="14.60" fill="#666666"/>
<text x="427.6" y="394.73" font-size="11.5" fill="#454545" text-anchor="end">SPG20</text>
<rect x="492.50" y="400.32" width="65.10" height="16.35" fill="#fff"/>
<rect x="492.90" y="401.20" width="64.30" height="14.60" fill="#666666"/>
<text x="427.6" y="411.40" font-size="11.5" fill="#454545" text-anchor="end">WASL</text>
<rect x="481.70" y="417.07" width="75.90" height="16.35" fill="#fff"/>
<rect x="482.10" y="417.95" width="75.10" height="14.60" fill="#666666"/>
<text x="427.6" y="428.07" font-size="11.5" fill="#454545" text-anchor="end">SEC31A</text>
<rect x="479.60" y="433.82" width="78.00" height="16.35" fill="#fff"/>
<rect x="480.00" y="434.70" width="77.20" height="14.60" fill="#666666"/>
<text x="427.6" y="444.74" font-size="11.5" fill="#454545" text-anchor="end">MAPK8</text>
<rect x="477.80" y="450.57" width="79.80" height="16.35" fill="#fff"/>
<rect x="478.20" y="451.45" width="79.00" height="14.60" fill="#666666"/>
<text x="427.6" y="461.41" font-size="11.5" fill="#454545" text-anchor="end">RAB5C</text>
<rect x="473.70" y="467.32" width="83.90" height="16.35" fill="#fff"/>
<rect x="474.10" y="468.20" width="83.10" height="14.60" fill="#666666"/>
<text x="427.6" y="478.08" font-size="11.5" fill="#454545" text-anchor="end">MAP3K8</text>
<rect x="469.20" y="484.07" width="88.40" height="16.35" fill="#fff"/>
<rect x="469.60" y="484.95" width="87.60" height="14.60" fill="#666666"/>
<text x="427.6" y="494.75" font-size="11.5" font-weight="bold" fill="#d8232a" text-anchor="end">TRIM55</text>
<rect x="455.70" y="500.82" width="101.90" height="16.35" fill="#fff"/>
<rect x="456.10" y="501.70" width="101.10" height="14.60" fill="#666666"/>
<text x="427.6" y="511.42" font-size="11.5" fill="#454545" text-anchor="end">MAPK6</text>
<rect x="452.40" y="517.58" width="105.20" height="16.35" fill="#fff"/>
<rect x="452.80" y="518.45" width="104.40" height="14.60" fill="#666666"/>
<text x="427.6" y="528.09" font-size="11.5" font-weight="bold" fill="#d8232a" text-anchor="end">CUL2</text>
<rect x="441.70" y="534.33" width="115.90" height="16.35" fill="#fff"/>
<rect x="442.10" y="535.20" width="115.10" height="14.60" fill="#666666"/>
<text x="427.6" y="544.76" font-size="11.5" font-weight="bold" fill="#d8232a" text-anchor="end">PPP2R1A</text>
<line x1="360" x2="360" y1="66.3" y2="265" stroke="#111" stroke-width="2"/>
<line x1="360" x2="360" y1="270" y2="551.8" stroke="#111" stroke-width="2"/>
<text x="351.9" y="172.5" font-size="17" fill="#111" text-anchor="end">InlC-K224</text>
<text x="351.6" y="412.5" font-size="17" fill="#111" text-anchor="end">InlC-WT</text>
<text x="423.8" y="569.6" font-size="12" fill="#4d4d4d">−1.0</text>
<text x="479.2" y="569.6" font-size="12" fill="#4d4d4d">−0.5</text>
<text x="545.0" y="569.6" font-size="12" fill="#4d4d4d">0.0</text>
<text x="599.4" y="569.6" font-size="12" fill="#4d4d4d">0.5</text>
<text x="654.0" y="569.6" font-size="12" fill="#4d4d4d">1.0</text>
<text x="473.4" y="593.3" font-size="17" fill="#111">Log2</text>
<text x="523.3" y="593.3" font-size="17.45" fill="#111">(fold−change)</text>
<rect x="697.9" y="219.2" width="19.5" height="99.3" fill="url(#pg)"/>
<line x1="697.9" x2="701.8" y1="233.9" y2="233.9" stroke="#fff" stroke-width="0.8"/>
<line x1="713.5" x2="717.4" y1="233.9" y2="233.9" stroke="#fff" stroke-width="0.8"/>
<text x="724" y="237.6" font-size="11.1" fill="#222">0.04</text>
<line x1="697.9" x2="701.8" y1="254.6" y2="254.6" stroke="#fff" stroke-width="0.8"/>
<line x1="713.5" x2="717.4" y1="254.6" y2="254.6" stroke="#fff" stroke-width="0.8"/>
<text x="724" y="258.3" font-size="11.1" fill="#222">0.03</text>
<line x1="697.9" x2="701.8" y1="274.6" y2="274.6" stroke="#fff" stroke-width="0.8"/>
<line x1="713.5" x2="717.4" y1="274.6" y2="274.6" stroke="#fff" stroke-width="0.8"/>
<text x="724" y="278.3" font-size="11.1" fill="#222">0.02</text>
<line x1="697.9" x2="701.8" y1="295.3" y2="295.3" stroke="#fff" stroke-width="0.8"/>
<line x1="713.5" x2="717.4" y1="295.3" y2="295.3" stroke="#fff" stroke-width="0.8"/>
<text x="724" y="299.0" font-size="11.1" fill="#222">0.01</text>
<text x="660.3" y="334" font-size="11.5" fill="#222">Adjusted p values</text>
</svg></body></html>
